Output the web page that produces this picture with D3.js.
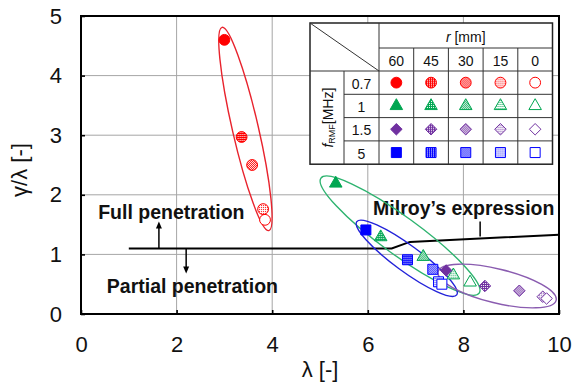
<!DOCTYPE html>
<html>
<head>
<meta charset="utf-8">
<script src="https://cdn.jsdelivr.net/npm/d3@7"></script>
<style>
  body { margin: 0; background: #fff; }
  svg { display: block; font-family: "Liberation Sans", Arial, sans-serif; }
</style>
</head>
<body>
<div id="chart"></div>
<script>
// ---- data ----
const radii = [60, 45, 30, 15, 0];            // r [mm]
const freqs = ["0.7", "1", "1.5", "5"];        // f_RMF [MHz]
const xTicks = [0, 2, 4, 6, 8, 10];
const yTicks = [0, 1, 2, 3, 4, 5];

const lambda07 = [3.00, 3.36, 3.58, 3.81, 3.85];
const ratio07  = [4.60, 2.97, 2.50, 1.76, 1.58];
const lambda1  = [5.33, 6.27, 7.16, 7.79, 8.14];
const ratio1   = [2.19, 1.29, 0.96, 0.65, 0.53];
const lambda15 = [7.64, 8.45, 9.17, 9.66, 9.74];
const ratio15  = [0.73, 0.47, 0.39, 0.29, 0.26];
const lambda5  = [5.96, 6.83, 7.36, 7.48, 7.55];
const ratio5   = [1.41, 0.91, 0.75, 0.54, 0.50];

// Milroy's expression curve
const milroyX = [1.0, 6.5, 6.88, 10.0];
const milroyY = [1.10, 1.10, 1.21, 1.33];

// group ellipses: two tips (data units) + half width (px)
const ellipseTips = {
  "0.7": [[2.95, 4.81], [3.93, 1.40], 13],
  "1":   [[5.02, 2.28], [8.33, 0.35], 19],
  "5":   [[5.77, 1.55], [7.86, 0.32], 13],
  "1.5": [[7.47, 0.71], [9.94, 0.23], 17]
};

//Setup Dimensions
const width = 572, height = 386;
const m = { left: 81, top: 16, right: 13, bottom: 72 };
const plotW = width - m.left - m.right;
const plotH = height - m.top - m.bottom;

const colors = { "0.7": "#ff0000", "1": "#00a651", "1.5": "#7030a0", "5": "#0000ff" };

const svg = d3.select("#chart").append("svg")
  .attr("width", width).attr("height", height);

const x = d3.scaleLinear().domain([0, 10]).range([m.left, m.left + plotW]);
const y = d3.scaleLinear().domain([0, 5]).range([m.top + plotH, m.top]);

//Patterns for the hatched markers
const defs = svg.append("defs");
freqs.forEach((f, fi) => {
  [45, 30, 15].forEach(r => {
    const p = defs.append("pattern")
      .attr("id", `pat-${fi}-${r}`)
      .attr("patternUnits", "userSpaceOnUse")
      .attr("width", 2).attr("height", 2);
    p.append("rect").attr("width", 2).attr("height", 2).attr("fill", "#fff");
    const cells = r === 45 ? [[0, 0], [1, 1], [1, 0]] : r === 30 ? [[0, 0], [1, 1]] : [[0, 0]];
    cells.forEach(c => p.append("rect").attr("x", c[0]).attr("y", c[1])
      .attr("width", 1).attr("height", 1).attr("fill", colors[f]));
  });
});

function markerFill(fi, r) {
  const f = freqs[fi];
  if (r === 60) return colors[f];
  if (r === 0) return "#fff";
  return `url(#pat-${fi}-${r})`;
}

const diamond = {
  draw(ctx, size) {
    const s = Math.sqrt(size / 2);
    ctx.moveTo(0, -s); ctx.lineTo(s, 0); ctx.lineTo(0, s); ctx.lineTo(-s, 0); ctx.closePath();
  }
};
const shapes = [
  d3.symbol(d3.symbolCircle, 92),
  d3.symbol(d3.symbolTriangle, 68),
  d3.symbol(diamond, 66),
  d3.symbol(d3.symbolSquare, 100)
];

//Grid
const grid = svg.append("g").attr("stroke", "#a6a6a6").attr("stroke-width", 1);
grid.selectAll(".gx").data(xTicks.slice(1, -1)).enter().append("line")
  .attr("x1", d => x(d)).attr("x2", d => x(d))
  .attr("y1", y(0)).attr("y2", y(5));
grid.selectAll(".gy").data(yTicks.slice(1, -1)).enter().append("line")
  .attr("y1", d => y(d)).attr("y2", d => y(d))
  .attr("x1", x(0)).attr("x2", x(10));

//Axes (inward ticks)
const ax = svg.append("g")
  .attr("transform", `translate(0,${y(0)})`)
  .call(d3.axisBottom(x).tickValues(xTicks).tickFormat(d3.format("d")).tickSize(-4).tickPadding(22));
const ay = svg.append("g")
  .attr("transform", `translate(${x(0)},0)`)
  .call(d3.axisLeft(y).tickValues(yTicks).tickFormat(d3.format("d")).tickSize(-4).tickPadding(19));
[ax, ay].forEach(g => {
  g.select(".domain").remove();
  g.selectAll(".tick line").attr("stroke", "#000").attr("stroke-width", 1.6);
  g.selectAll(".tick text").attr("font-size", 22).attr("fill", "#111")
    .attr("font-family", "Liberation Sans, Arial, sans-serif");
});

//Frame
svg.append("rect")
  .attr("x", x(0)).attr("y", y(5))
  .attr("width", x(10) - x(0)).attr("height", y(0) - y(5))
  .attr("fill", "none").attr("stroke", "#000").attr("stroke-width", 2);

//Axis titles
svg.append("text")
  .attr("x", (x(0) + x(10)) / 2).attr("y", 377)
  .attr("text-anchor", "middle").attr("font-size", 22).attr("fill", "#111")
  .text("λ [-]");
svg.append("text")
  .attr("transform", `translate(27,170) rotate(-90)`)
  .attr("text-anchor", "middle").attr("font-size", 22).attr("fill", "#111")
  .text("γ/λ [-]");

//Milroy's expression line + annotations
const line = d3.line().x(d => x(d[0])).y(d => y(d[1]));
svg.append("path")
  .attr("d", line(d3.zip(milroyX, milroyY)))
  .attr("fill", "none").attr("stroke", "#000").attr("stroke-width", 2);

svg.append("line")
  .attr("x1", x(8.35)).attr("x2", x(8.35))
  .attr("y1", y(1.30)).attr("y2", y(1.55))
  .attr("stroke", "#000").attr("stroke-width", 1.5);

function arrow(xv, y0, y1) {
  const px = x(xv), p0 = y(y0), p1 = y(y1);
  const dir = p1 < p0 ? 1 : -1;
  svg.append("line").attr("x1", px).attr("x2", px).attr("y1", p0).attr("y2", p1 + dir * 5)
    .attr("stroke", "#000").attr("stroke-width", 1.5);
  svg.append("path")
    .attr("d", `M${px},${p1} L${px - 3},${p1 + dir * 7} L${px + 3},${p1 + dir * 7}Z`)
    .attr("fill", "#000");
}
arrow(1.63, 1.10, 1.55);
arrow(2.20, 1.10, 0.68);

const labelStyle = s => s.attr("font-size", 19.5).attr("font-weight", "bold").attr("fill", "#111");
svg.append("text").attr("x", x(0.36)).attr("y", y(1.59)).call(labelStyle).text("Full penetration");
svg.append("text").attr("x", x(0.54)).attr("y", y(0.35)).call(labelStyle).text("Partial penetration");
svg.append("text").attr("x", x(6.11)).attr("y", y(1.66)).call(labelStyle).text("Milroy’s expression");

//Ellipses around each frequency group
const ellipseColors = { "0.7": "#e8232d", "1": "#2db36f", "5": "#2323d9", "1.5": "#8a5cb0" };
Object.keys(ellipseTips).forEach(f => {
  const [a, b, hw] = ellipseTips[f];
  const ax0 = x(a[0]), ay0 = y(a[1]), bx = x(b[0]), by = y(b[1]);
  const cx = (ax0 + bx) / 2, cy = (ay0 + by) / 2;
  const len = Math.hypot(bx - ax0, by - ay0);
  const ang = Math.atan2(by - ay0, bx - ax0) * 180 / Math.PI;
  svg.append("ellipse")
    .attr("transform", `translate(${cx},${cy}) rotate(${ang})`)
    .attr("rx", len / 2).attr("ry", hw)
    .attr("fill", "none").attr("stroke", ellipseColors[f]).attr("stroke-width", 1.4);
});

//Data points
const seriesX = [lambda07, lambda1, lambda15, lambda5];
const seriesY = [ratio07, ratio1, ratio15, ratio5];
const points = [];
freqs.forEach((f, fi) => radii.forEach((r, ri) => {
  points.push({ fi, r, lx: seriesX[fi][ri], ly: seriesY[fi][ri] });
}));
svg.append("g").selectAll("path").data(points).enter().append("path")
  .attr("transform", d => `translate(${x(d.lx)},${y(d.ly)})`)
  .attr("d", d => shapes[d.fi]())
  .attr("fill", d => markerFill(d.fi, d.r))
  .attr("stroke", d => colors[freqs[d.fi]])
  .attr("stroke-width", 1);

//Legend table
const T = { x: 310, y: 23, c0: 34, c1: 35, cw: 34.7, h0: 25, h1: 23, rh: 23.3 };
const colEdges = [T.x, T.x + T.c0, T.x + T.c0 + T.c1];
radii.forEach((r, i) => colEdges.push(colEdges[2] + (i + 1) * T.cw));
const rowEdges = [T.y, T.y + T.h0, T.y + T.h0 + T.h1];
freqs.forEach((f, i) => rowEdges.push(rowEdges[2] + (i + 1) * T.rh));
const tR = colEdges[colEdges.length - 1], tB = rowEdges[rowEdges.length - 1];

const leg = svg.append("g");
leg.append("rect").attr("x", T.x).attr("y", T.y)
  .attr("width", tR - T.x).attr("height", tB - T.y)
  .attr("fill", "#fff").attr("stroke", "#222").attr("stroke-width", 1.5);
const ls = leg.append("g").attr("stroke", "#333").attr("stroke-width", 1);
// horizontal rules
ls.append("line").attr("x1", colEdges[2]).attr("x2", tR).attr("y1", rowEdges[1]).attr("y2", rowEdges[1]);
ls.append("line").attr("x1", T.x).attr("x2", tR).attr("y1", rowEdges[2]).attr("y2", rowEdges[2]);
rowEdges.slice(3, -1).forEach(e => ls.append("line").attr("x1", colEdges[1]).attr("x2", tR).attr("y1", e).attr("y2", e));
// vertical rules
ls.append("line").attr("x1", colEdges[1]).attr("x2", colEdges[1]).attr("y1", rowEdges[2]).attr("y2", tB);
ls.append("line").attr("x1", colEdges[2]).attr("x2", colEdges[2]).attr("y1", T.y).attr("y2", tB);
colEdges.slice(3, -1).forEach(e => ls.append("line").attr("x1", e).attr("x2", e).attr("y1", rowEdges[1]).attr("y2", tB));
// diagonal
ls.append("line").attr("x1", T.x).attr("y1", T.y).attr("x2", colEdges[2]).attr("y2", rowEdges[2]);

const lt = s => s.attr("font-size", 14).attr("fill", "#111").attr("text-anchor", "middle")
  .attr("dominant-baseline", "central");
const rHead = leg.append("text").call(lt)
  .attr("x", (colEdges[2] + tR) / 2).attr("y", (rowEdges[0] + rowEdges[1]) / 2 + 1);
rHead.append("tspan").attr("font-style", "italic").text("r");
rHead.append("tspan").text(" [mm]");
radii.forEach((r, i) => leg.append("text").call(lt)
  .attr("x", (colEdges[i + 2] + colEdges[i + 3]) / 2)
  .attr("y", (rowEdges[1] + rowEdges[2]) / 2 + 1).text(r));
freqs.forEach((f, i) => leg.append("text").call(lt)
  .attr("x", (colEdges[1] + colEdges[2]) / 2)
  .attr("y", (rowEdges[i + 2] + rowEdges[i + 3]) / 2 + 1).text(f));
const fHead = leg.append("text").call(lt)
  .attr("transform", `translate(${(colEdges[0] + colEdges[1]) / 2 + 1},${(rowEdges[2] + tB) / 2}) rotate(-90)`);
fHead.append("tspan").attr("font-style", "italic").text("f");
fHead.append("tspan").attr("font-size", 9).attr("dy", 4).text("RMF");
fHead.append("tspan").attr("dy", -4).text("[MHz]");

freqs.forEach((f, fi) => radii.forEach((r, ri) => {
  leg.append("path")
    .attr("transform", `translate(${(colEdges[ri + 2] + colEdges[ri + 3]) / 2},${(rowEdges[fi + 2] + rowEdges[fi + 3]) / 2})`)
    .attr("d", shapes[fi]())
    .attr("fill", markerFill(fi, r))
    .attr("stroke", colors[f]).attr("stroke-width", 1);
}));
</script>
</body>
</html>
